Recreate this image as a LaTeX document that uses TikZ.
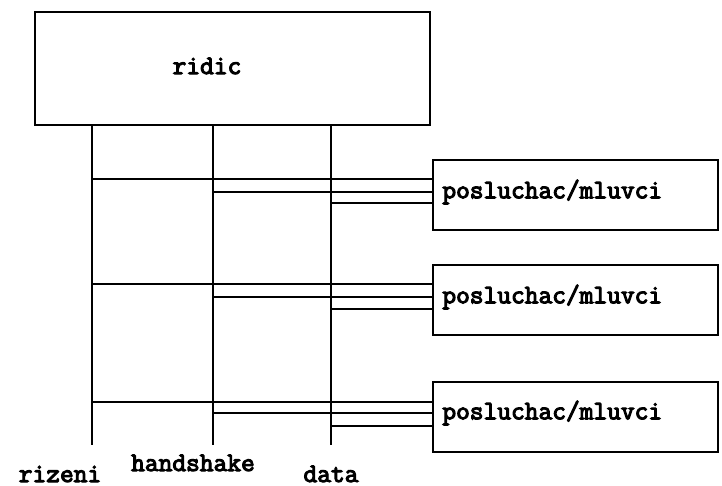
\documentclass[tikz,border=0pt]{standalone}
\usepackage{fontspec}
\newfontfamily\cour[FakeBold=4]{Latin Modern Mono}
\begin{document}
\begin{tikzpicture}[x=0.75pt,y=-0.75pt,line width=2.1pt,
  txt/.style={font=\cour\fontsize{20}{22}\selectfont,inner sep=0pt},
  boxn/.style={draw,inner sep=0pt,minimum width=285*0.75pt,minimum height=70*0.75pt}]
\useasboundingbox (0,0) rectangle (722,486);
% master
\node[draw,minimum width=395*0.75pt,minimum height=113*0.75pt,inner sep=0pt] (ridic) at (232.5,68.5) {};
\node[txt] (ridict) at (207,66) {ridic};
% bus ends
\coordinate (rzT) at (92,125); \coordinate (rzB) at (92,445);
\coordinate (hsT) at (213,125); \coordinate (hsB) at (213,445);
\coordinate (daT) at (331,125); \coordinate (daB) at (331,445);
\draw (rzT) -- (rzB);
\draw (hsT) -- (hsB);
\draw (daT) -- (daB);
% slaves
\node[boxn] (s1) at (575.5,195) {};
\node[boxn] (s2) at (575.5,300) {};
\node[boxn] (s3) at (575.5,417) {};
\node[txt,anchor=west] (s1t) at (441,192) {posluchac/mluvci};
\node[txt,anchor=west] (s2t) at (441,297) {posluchac/mluvci};
\node[txt,anchor=west] (s3t) at (441,413) {posluchac/mluvci};
% taps
\foreach \s/\ya/\yb/\yc in {s1/179/192/203, s2/284/297/309, s3/402/413/426}{
  \draw (rzT |- 0,\ya) -- (\s.west |- 0,\ya);
  \draw (hsT |- 0,\yb) -- (\s.west |- 0,\yb);
  \draw (daT |- 0,\yc) -- (\s.west |- 0,\yc);
}
% labels
\node[txt,anchor=base] (lrz) at (60,482) {rizeni};
\node[txt,anchor=base] (lhs) at (193,471) {handshake};
\node[txt,anchor=base] (lda) at (331,482) {data};
\end{tikzpicture}
\end{document}
